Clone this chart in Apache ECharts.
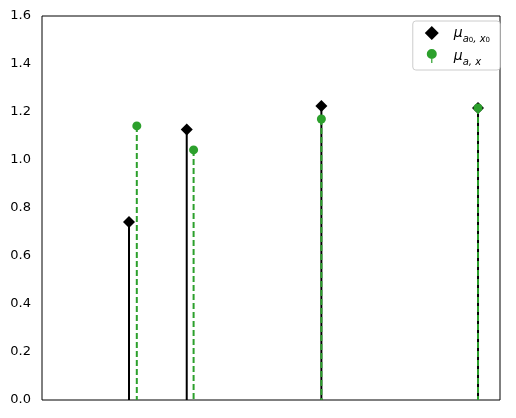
<!DOCTYPE html>
<html>
<head>
<meta charset="utf-8">
<script src="https://cdn.jsdelivr.net/npm/echarts@6/dist/echarts.min.js"></script>
<style>
  html, body { margin: 0; padding: 0; background: #fff; }
  #chart { width: 516px; height: 418px; }
</style>
</head>
<body>
<div id="chart"></div>
<script>
// stem positions (x) and heights (y)
const baseX = [0.19, 0.316, 0.61, 0.952]
const baseY = [0.742, 1.127, 1.225, 1.217]
const estX = [0.207, 0.331, 0.61, 0.952]
const estY = [1.142, 1.042, 1.171, 1.217]
const yTicks = [0, 0.2, 0.4, 0.6, 0.8, 1.0, 1.2, 1.4, 1.6]

const BLACK = '#000000'
const GREEN = '#2ca02c'

const pairs = (xs, ys) => xs.map((x, i) => [x, ys[i]])

const stemSeries = (data, color, dashed, z) => ({
  type: 'custom',
  z: z,
  silent: true,
  data: data,
  renderItem: (params, api) => {
    const top = api.coord([api.value(0), api.value(1)])
    const bottom = api.coord([api.value(0), 0])
    return {
      type: 'line',
      shape: { x1: top[0], y1: top[1], x2: bottom[0], y2: bottom[1] },
      style: {
        stroke: color,
        lineWidth: 2,
        lineDash: dashed ? [6, 3] : null
      }
    }
  }
})

const chart = echarts.init(document.getElementById('chart'), null, { renderer: 'canvas' })

const option = {
  animation: false,
  grid: {
    left: 42,
    right: 16,
    top: 16,
    bottom: 18,
    show: true,
    borderColor: '#000',
    borderWidth: 1,
    backgroundColor: 'transparent'
  },
  xAxis: {
    type: 'value',
    min: 0,
    max: 1,
    axisLine: { show: false },
    axisTick: { show: false },
    axisLabel: { show: false },
    splitLine: { show: false }
  },
  yAxis: {
    type: 'value',
    min: 0,
    max: 1.6,
    interval: 0.2,
    axisLine: { show: false },
    axisTick: { show: false },
    splitLine: { show: false },
    axisLabel: {
      color: '#000',
      fontFamily: 'DejaVu Sans',
      fontSize: 13,
      margin: 11,
      formatter: (v) => {
        const t = yTicks.find(k => Math.abs(k - v) < 1e-6)
        return (t !== undefined ? t : v).toFixed(1)
      }
    }
  },
  legend: {
    right: 16,
    top: 21,
    orient: 'vertical',
    backgroundColor: '#fff',
    borderColor: '#cccccc',
    borderWidth: 1,
    borderRadius: 3,
    padding: [5, 10, 3, 12],
    itemGap: 5,
    itemWidth: 14,
    itemHeight: 14,
    data: [
      { name: 'base', icon: 'diamond', itemStyle: { color: BLACK } },
      { name: 'est', icon: 'path://M5,0A5,5,0,1,1,4.99,0ZM4.4,9L5.6,9L5.6,14L4.4,14Z', itemStyle: { color: GREEN } }
    ],
    formatter: (name) => name === 'base'
      ? '{mu|μ}{sub|a}{sub2|0}{sub|, x}{sub2|0}'
      : '{mu|μ}{sub|a, x}',
    textStyle: {
      color: '#000',
      fontFamily: 'DejaVu Sans',
      padding: [0, 0, 0, 10],
      rich: {
        mu: { fontSize: 14, fontStyle: 'italic', fontFamily: 'DejaVu Sans', color: '#000', lineHeight: 22, verticalAlign: 'middle' },
        sub: { fontSize: 10, fontStyle: 'italic', fontFamily: 'DejaVu Sans', color: '#000', lineHeight: 12, verticalAlign: 'bottom' },
        sub2: { fontSize: 7, fontFamily: 'DejaVu Sans', color: '#000', lineHeight: 6, verticalAlign: 'bottom' }
      }
    }
  },
  series: [
    stemSeries(pairs(baseX, baseY), BLACK, false, 1),
    {
      name: 'base',
      type: 'scatter',
      z: 2,
      symbol: 'diamond',
      symbolSize: [12, 12],
      itemStyle: { color: BLACK, opacity: 1 },
      data: pairs(baseX, baseY)
    },
    stemSeries(pairs(estX, estY), GREEN, true, 3),
    {
      name: 'est',
      type: 'scatter',
      z: 4,
      symbol: 'circle',
      symbolSize: 9,
      itemStyle: { color: GREEN, opacity: 1 },
      data: pairs(estX, estY)
    }
  ]
}

chart.setOption(option)
</script>
</body>
</html>
